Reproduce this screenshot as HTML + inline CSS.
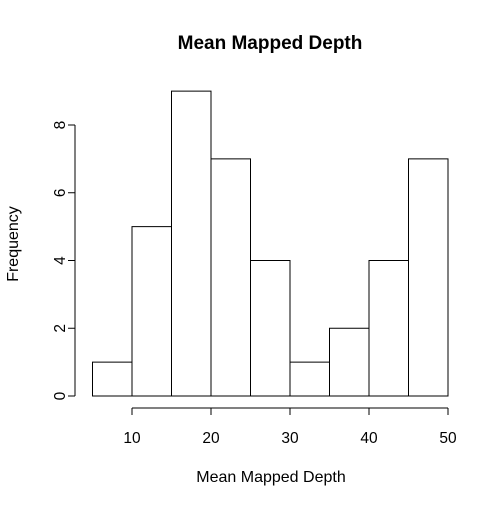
<!DOCTYPE html>
<html><head><meta charset="utf-8"><style>
html,body{margin:0;padding:0;background:#fff;}
svg{display:block;font-family:"Liberation Sans",Arial,sans-serif;}
</style></head><body>
<svg id="chart" width="503" height="506" viewBox="0 0 503 506">
<text x="270" y="49" text-anchor="middle" font-size="19" font-weight="bold">Mean Mapped Depth</text>
<text x="271" y="482" text-anchor="middle" font-size="16">Mean Mapped Depth</text>
<text x="18" y="244" text-anchor="middle" font-size="16" transform="rotate(-90 18 244)">Frequency</text>
<g id="bars"></g>
<g id="xaxis"></g>
<g id="yaxis"></g>
</svg>
<script>
const binStarts = [5,10,15,20,25,30,35,40,45];
const binWidth = 5;
const counts = [1,5,9,7,4,1,2,4,7];
const xTicks = [10,20,30,40,50];
const yTicks = [0,2,4,6,8];
const NS = "http://www.w3.org/2000/svg";
function xs(v){ return 132 + (v-10)*(448-132)/40; }
function ys(v){ return 396 - v*(396-125)/8; }
function mk(tag, attrs, parent){
  const e = document.createElementNS(NS, tag);
  for (const k in attrs) e.setAttribute(k, attrs[k]);
  parent.appendChild(e); return e;
}
const bars = document.getElementById('bars');
binStarts.forEach((b,i)=>{
  const x0 = xs(b), x1 = xs(b+binWidth), y = ys(counts[i]);
  const r = mk('rect',{x:x0,y:y,width:x1-x0,height:ys(0)-y,fill:'#fff',stroke:'#000','stroke-width':1},bars);
  
  
});
const xa = document.getElementById('xaxis');


mk('line',{x1:xs(xTicks[0]),x2:xs(xTicks[xTicks.length-1]),y1:408,y2:408,stroke:'#000'},xa);
xTicks.forEach(t=>{
  mk('line',{x1:xs(t),x2:xs(t),y1:408,y2:415,stroke:'#000'},xa);
  const tx = mk('text',{x:xs(t),y:443,'text-anchor':'middle','font-size':15.5},xa);
  tx.textContent = t;
  
  
});
const ya = document.getElementById('yaxis');


mk('line',{x1:75,x2:75,y1:ys(yTicks[0]),y2:ys(yTicks[yTicks.length-1]),stroke:'#000'},ya);
yTicks.forEach(t=>{
  mk('line',{x1:68,x2:75,y1:ys(t),y2:ys(t),stroke:'#000'},ya);
  const tx = mk('text',{x:0,y:0,'text-anchor':'middle','font-size':15.5,transform:'translate(65 '+ys(t)+') rotate(-90)'},ya);
  tx.textContent = t;
  
  
});
</script>
</body></html>
